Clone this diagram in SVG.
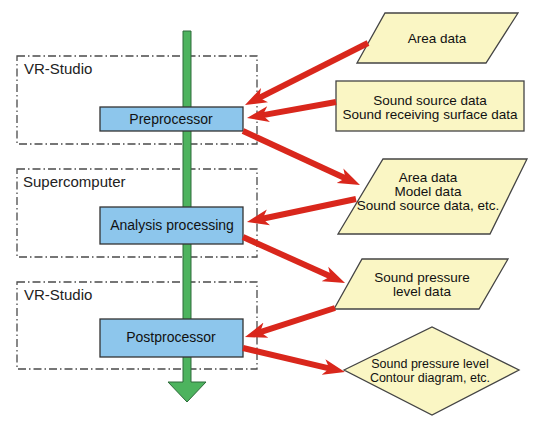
<svg xmlns="http://www.w3.org/2000/svg" width="550" height="427" viewBox="0 0 550 427">
<defs>
<style>
.grp{fill:none;stroke:#4a4a4a;stroke-width:1.3;stroke-dasharray:8,3,1.5,3}
.lbl{font-family:"Liberation Sans",Arial,sans-serif;font-size:15px;fill:#222}
.proc{fill:#8DC6EC;stroke:#333;stroke-width:1.3}
.ptxt{font-family:"Liberation Sans",Arial,sans-serif;font-size:14px;fill:#111;text-anchor:middle}
.data{fill:#FAF6C4;stroke:#444;stroke-width:1.3}
.dtxt{font-family:"Liberation Sans",Arial,sans-serif;font-size:13.5px;fill:#111;text-anchor:middle}
.flow{fill:none;stroke:#D9271C;stroke-width:6}
</style>
<marker id="ah" markerUnits="userSpaceOnUse" viewBox="0 -9 22 18" markerWidth="22" markerHeight="18" refX="10" refY="0" orient="auto">
<path d="M0,-8 L22,0 L0,8 L6,0 z" fill="#D9271C"/>
</marker>
</defs>
<rect width="550" height="427" fill="#fff"/>

<g id="group-vr1"><rect class="grp" x="17" y="56" width="240" height="88"/><text class="lbl" x="24" y="74">VR-Studio</text></g>
<g id="group-super"><rect class="grp" x="17" y="169" width="240" height="88"/><text class="lbl" x="23" y="187">Supercomputer</text></g>
<g id="group-vr2"><rect class="grp" x="17" y="282" width="240" height="87"/><text class="lbl" x="24" y="300">VR-Studio</text></g>

<g id="main-flow"><polygon points="183,31 191,31 191,382 206,382 187,402 168,382 183,382" fill="#4DB35E" stroke="#2E6B3A" stroke-width="1"/></g>

<g id="preprocessor"><rect class="proc" x="100" y="107" width="143" height="24"/><text class="ptxt" x="171" y="124">Preprocessor</text></g>
<g id="analysis"><rect class="proc" x="100" y="207" width="143" height="37"/><text class="ptxt" x="172" y="230">Analysis processing</text></g>
<g id="postprocessor"><rect class="proc" x="100" y="319" width="143" height="38"/><text class="ptxt" x="171" y="342">Postprocessor</text></g>

<g id="area-data"><polygon class="data" points="385,13 518,13 486,63 357,63"/><text class="dtxt" x="437" y="43">Area data</text></g>
<g id="source-data"><rect class="data" x="336" y="81" width="188" height="50"/><text class="dtxt" x="430" y="105">Sound source data</text><text class="dtxt" x="430" y="119">Sound receiving surface data</text></g>
<g id="model-data"><polygon class="data" points="383,159 527,159 490,234 338,234"/><text class="dtxt" x="428" y="182">Area data</text><text class="dtxt" x="428" y="196">Model data</text><text class="dtxt" x="428" y="210">Sound source data, etc.</text></g>
<g id="spl-data"><polygon class="data" points="362,259 508,259 479,309 334,309"/><text class="dtxt" x="422" y="282">Sound pressure</text><text class="dtxt" x="422" y="296">level data</text></g>
<g id="contour"><polygon class="data" points="344,370 432,327 519,370 432,415"/><text class="dtxt" x="430" y="368" style="font-size:12.5px">Sound pressure level</text><text class="dtxt" x="430" y="382" style="font-size:12.5px">Contour diagram, etc.</text></g>

<g id="connectors">
<line class="flow" x1="368" y1="43" x2="255.7" y2="99.6" marker-end="url(#ah)"/>
<line class="flow" x1="336" y1="102" x2="258.8" y2="115.9" marker-end="url(#ah)"/>
<line class="flow" x1="243" y1="131" x2="349.1" y2="180" marker-end="url(#ah)"/>
<line class="flow" x1="356" y1="199" x2="258.7" y2="219.5" marker-end="url(#ah)"/>
<line class="flow" x1="243" y1="237" x2="334.1" y2="278.1" marker-end="url(#ah)"/>
<line class="flow" x1="335" y1="308" x2="256.4" y2="333.3" marker-end="url(#ah)"/>
<line class="flow" x1="243" y1="348" x2="333.3" y2="369.3" marker-end="url(#ah)"/>
</g>
</svg>
